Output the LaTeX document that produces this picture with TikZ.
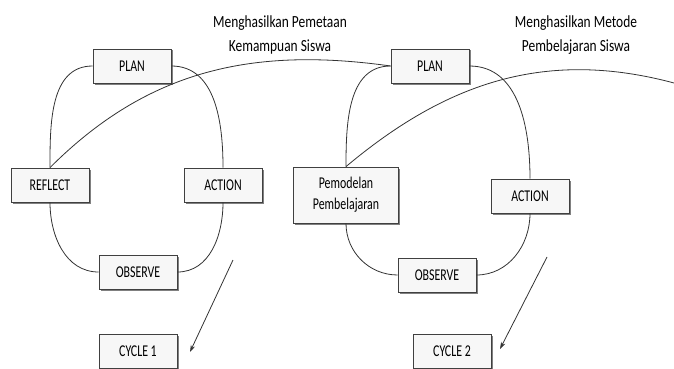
\documentclass[tikz,border=0pt]{standalone}
\usepackage{fontspec}
\setmainfont{Carlito}
\newfontfamily\boxfont{Carlito}[FakeStretch=0.72]
\newfontfamily\notefont{Carlito}[FakeStretch=0.79]
\usetikzlibrary{arrows.meta,shadows}

\begin{document}
\begin{tikzpicture}[x=1pt, y=1pt, >={Stealth[length=7pt, width=4.5pt]},
    stage/.style={draw=black!75, fill=black!3, line width=0.8pt, minimum width=78pt, minimum height=34pt,
        inner sep=2pt, align=center, font=\boxfont\fontsize{16.5}{21}\selectfont,
        drop shadow={shadow xshift=1.5pt, shadow yshift=-1.5pt, fill=black!50, opacity=1}},
    link/.style={draw=black!80, line width=0.8pt},
    note/.style={align=center, font=\notefont\fontsize{17}{24}\selectfont}]
    \useasboundingbox (0,0) rectangle (674,-369);

    % Cycle 1
    \node[stage] (Plan-1) at (132,-66) {PLAN};
    \node[stage] (Left-1) at (50,-185) {REFLECT};
    \node[stage] (Action-1) at (223,-185) {ACTION};
    \node[stage] (Observe-1) at (138,-272) {OBSERVE};
    \node[stage] (Cycle-1) at (138,-351) {CYCLE 1};

    % Cycle 2
    \node[stage] (Plan-2) at (430,-66) {PLAN};
    \node[stage, minimum width=105pt, minimum height=56pt] (Left-2) at (346,-195) {Pemodelan\\Pembelajaran};
    \node[stage] (Action-2) at (530,-196) {ACTION};
    \node[stage] (Observe-2) at (437,-275) {OBSERVE};
    \node[stage] (Cycle-2) at (452,-351) {CYCLE 2};

    % Results
    \node[note] (Result-1) at (280,-35) {Menghasilkan Pemetaan\\Kemampuan Siswa};
    \node[note] (Result-2) at (576,-35) {Menghasilkan Metode\\Pembelajaran Siswa};

    % Loops round each cycle
    \foreach \i in {1,2}
    {
        \draw[link] (Plan-\i.west) to[out=180, in=90] (Left-\i.north);
        \draw[link] (Plan-\i.east) to[out=0, in=90] (Action-\i.north);
        \draw[link] (Left-\i.south) to[out=-90, in=180] (Observe-\i.west);
        \draw[link] (Action-\i.south) to[out=-90, in=0] (Observe-\i.east);
    }

    % Links to the next cycle
    \coordinate (Edge) at (674,-83);
    \draw[link] (Left-1.north) to[out=45, in=172] (Plan-2.west);
    \draw[link] (Left-2.north) to[out=40, in=165] (Edge);

    % Arrows to the cycle labels
    \coordinate (From-1) at (233,-260);
    \coordinate (To-1) at (190,-352);
    \coordinate (From-2) at (547,-257);
    \coordinate (To-2) at (500,-349);
    \foreach \i in {1,2}
    {
        \draw[->, link] (From-\i) -- (To-\i);
    }
\end{tikzpicture}
\end{document}
